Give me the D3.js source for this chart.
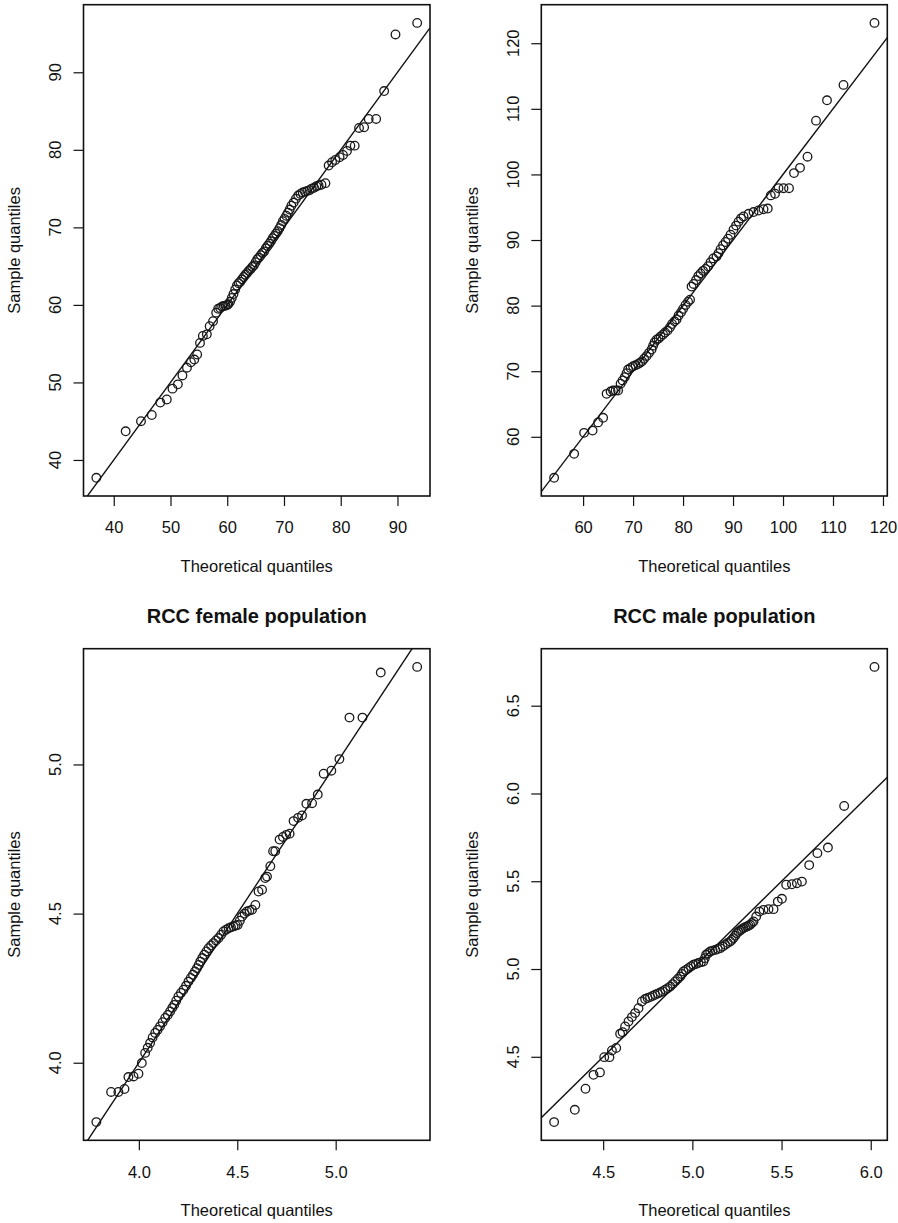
<!DOCTYPE html>
<html>
<head>
<meta charset="utf-8">
<script src="https://cdn.jsdelivr.net/npm/d3@7/dist/d3.min.js"></script>
<style>
  html, body { margin: 0; padding: 0; background: #fff; }
  svg { display: block; font-family: "Liberation Sans", Arial, Helvetica, sans-serif; }
</style>
</head>
<body>
<svg id="chart" width="898" height="1223"></svg>
<script>
// ---------- Normal Q-Q data (theoretical vs. sample quantiles) ----------

// upper-left panel
const tlTheoretical = [36.93, 42.1, 44.8, 46.7, 48.2, 49.35, 50.35, 51.3, 52.1, 52.9,
  53.6, 54.2, 54.7, 55.2, 55.7, 56.4, 56.9, 57.5, 58.05, 58.4,
  58.75, 59.1, 59.4, 59.7, 60.0, 60.2, 60.5, 60.8, 61.1, 61.4,
  61.7, 62.0, 62.3, 62.6, 62.9, 63.2, 63.5, 63.8, 64.1, 64.4,
  64.7, 65.0, 65.3, 65.6, 65.9, 66.2, 66.5, 66.8, 67.1, 67.4,
  67.7, 68.0, 68.3, 68.6, 68.9, 69.2, 69.5, 69.8, 70.1, 70.4,
  70.7, 71.0, 71.3, 71.7, 72.1, 72.5, 72.9, 73.3, 73.7, 74.1,
  74.5, 74.9, 75.3, 75.7, 76.1, 76.6, 77.3, 77.87, 78.47, 79.05,
  79.8, 80.4, 81.1, 81.7, 82.46, 83.23, 84.12, 84.93, 86.24, 87.65,
  89.65, 93.47];
const tlSample = [37.7, 43.7, 45.0, 45.8, 47.4, 47.8, 49.2, 49.75, 50.9, 51.9,
  52.6, 52.95, 53.6, 55.1, 56.0, 56.2, 57.25, 57.9, 59.0, 59.5,
  59.6, 59.8, 59.85, 59.9, 60.0, 60.1, 60.4, 60.9, 61.4, 62.0,
  62.5, 62.8, 63.0, 63.3, 63.6, 63.9, 64.1, 64.4, 64.6, 64.9,
  65.1, 65.5, 65.9, 66.1, 66.4, 66.7, 66.9, 67.3, 67.6, 67.9,
  68.2, 68.6, 68.9, 69.2, 69.5, 69.9, 70.3, 70.8, 71.1, 71.5,
  71.9, 72.3, 72.8, 73.2, 73.7, 74.1, 74.3, 74.5, 74.6, 74.7,
  74.8, 75.0, 75.1, 75.3, 75.4, 75.5, 75.7, 77.97, 78.4, 78.7,
  79.05, 79.34, 79.86, 80.54, 80.54, 82.82, 82.91, 83.98, 83.98, 87.58,
  94.88, 96.37];
const tlXTicks = [40, 50, 60, 70, 80, 90];
const tlXLabels = ["40", "50", "60", "70", "80", "90"];
const tlYTicks = [40, 50, 60, 70, 80, 90];
const tlYLabels = ["40", "50", "60", "70", "80", "90"];

// upper-right panel
const trTheoretical = [54.2, 58.2, 60.2, 61.9, 63.0, 64.0, 64.7, 65.5, 66.0, 66.5,
  67.0, 67.5, 67.9, 68.35, 68.7, 69.0, 69.5, 70.0, 70.5, 71.0,
  71.4, 71.8, 72.2, 72.7, 73.2, 73.7, 74.0, 74.3, 74.7, 75.1,
  75.5, 76.0, 76.4, 76.9, 77.4, 77.8, 78.3, 78.7, 79.1, 79.6,
  80.0, 80.5, 81.0, 81.4, 81.7, 82.1, 82.6, 83.05, 83.5, 84.0,
  84.5, 85.0, 85.5, 86.05, 86.7, 87.1, 87.5, 88.0, 88.5, 89.0,
  89.5, 90.1, 90.6, 91.1, 91.6, 92.1, 93.1, 94.1, 95.1, 96.1,
  96.95, 97.55, 98.4, 99.1, 100.1, 101.2, 102.2, 103.4, 104.9, 106.6,
  108.8, 112.1, 118.3];
const trSample = [53.75, 57.4, 60.6, 60.95, 62.2, 62.9, 66.55, 66.9, 67.05, 67.05,
  67.05, 68.1, 68.6, 69.1, 69.7, 70.25, 70.5, 70.75, 70.9, 71.1,
  71.3, 71.5, 71.9, 72.3, 72.8, 73.3, 73.9, 74.4, 74.8, 75.0,
  75.3, 75.6, 75.9, 76.2, 76.7, 77.2, 77.6, 77.9, 78.5, 79.0,
  79.5, 80.1, 80.6, 80.9, 82.9, 83.3, 83.9, 84.5, 84.9, 85.3,
  85.6, 86.0, 86.6, 87.2, 87.5, 88.0, 88.6, 89.2, 89.7, 90.2,
  90.8, 91.6, 92.2, 92.8, 93.3, 93.6, 94.0, 94.26, 94.5, 94.7,
  94.8, 96.8, 97.05, 97.9, 97.9, 97.9, 100.2, 101.0, 102.7, 108.2,
  111.3, 113.65, 123.1];
const trXTicks = [60, 70, 80, 90, 100, 110, 120];
const trXLabels = ["60", "70", "80", "90", "100", "110", "120"];
const trYTicks = [60, 70, 80, 90, 100, 110, 120];
const trYLabels = ["60", "70", "80", "90", "100", "110", "120"];

// RCC female population
const rccFemaleTheoretical = [3.784, 3.859, 3.896, 3.927, 3.947, 3.973, 3.998, 4.015, 4.032, 4.045,
  4.057, 4.070, 4.083, 4.095, 4.108, 4.121, 4.134, 4.147, 4.159, 4.170,
  4.180, 4.190, 4.201, 4.214, 4.227, 4.240, 4.252, 4.264, 4.275, 4.285,
  4.295, 4.304, 4.312, 4.322, 4.332, 4.343, 4.354, 4.367, 4.379, 4.392,
  4.405, 4.418, 4.430, 4.443, 4.456, 4.468, 4.481, 4.492, 4.502, 4.513,
  4.524, 4.537, 4.549, 4.562, 4.575, 4.592, 4.608, 4.626, 4.642, 4.651,
  4.668, 4.682, 4.693, 4.715, 4.732, 4.749, 4.766, 4.786, 4.809, 4.829,
  4.851, 4.880, 4.909, 4.939, 4.978, 5.019, 5.070, 5.136, 5.229, 5.414];
const rccFemaleSample = [3.801, 3.902, 3.902, 3.912, 3.952, 3.954, 3.963, 3.999, 4.033, 4.050,
  4.066, 4.085, 4.100, 4.110, 4.122, 4.136, 4.150, 4.160, 4.172, 4.184,
  4.194, 4.208, 4.222, 4.234, 4.245, 4.258, 4.272, 4.284, 4.295, 4.306,
  4.317, 4.328, 4.339, 4.351, 4.362, 4.373, 4.384, 4.393, 4.401, 4.410,
  4.418, 4.429, 4.440, 4.446, 4.451, 4.454, 4.457, 4.460, 4.462, 4.476,
  4.490, 4.500, 4.507, 4.510, 4.513, 4.529, 4.574, 4.580, 4.619, 4.624,
  4.659, 4.709, 4.709, 4.748, 4.757, 4.764, 4.768, 4.810, 4.821, 4.829,
  4.868, 4.870, 4.899, 4.969, 4.979, 5.018, 5.157, 5.157, 5.308, 5.327];
const rccFemaleXTicks = [4.0, 4.5, 5.0];
const rccFemaleXLabels = ["4.0", "4.5", "5.0"];
const rccFemaleYTicks = [4.0, 4.5, 5.0];
const rccFemaleYLabels = ["4.0", "4.5", "5.0"];

// RCC male population
const rccMaleTheoretical = [4.225, 4.341, 4.401, 4.446, 4.482, 4.506, 4.535, 4.549, 4.573, 4.595,
  4.609, 4.623, 4.642, 4.661, 4.679, 4.698, 4.717, 4.735, 4.749, 4.763,
  4.777, 4.791, 4.806, 4.820, 4.834, 4.848, 4.862, 4.876, 4.890, 4.904,
  4.918, 4.932, 4.941, 4.950, 4.964, 4.978, 4.992, 5.006, 5.020, 5.034,
  5.048, 5.062, 5.070, 5.077, 5.088, 5.100, 5.114, 5.128, 5.142, 5.156,
  5.170, 5.184, 5.198, 5.212, 5.221, 5.230, 5.240, 5.249, 5.258, 5.268,
  5.277, 5.286, 5.296, 5.306, 5.315, 5.324, 5.334, 5.343, 5.358, 5.376,
  5.399, 5.427, 5.455, 5.479, 5.502, 5.526, 5.558, 5.586, 5.614, 5.655,
  5.701, 5.760, 5.851, 6.021];
const rccMaleSample = [4.128, 4.198, 4.318, 4.397, 4.411, 4.498, 4.498, 4.536, 4.550, 4.631,
  4.640, 4.673, 4.701, 4.726, 4.749, 4.777, 4.815, 4.829, 4.835, 4.840,
  4.847, 4.853, 4.860, 4.866, 4.874, 4.882, 4.891, 4.900, 4.914, 4.929,
  4.943, 4.957, 4.972, 4.986, 4.995, 5.005, 5.015, 5.024, 5.029, 5.034,
  5.039, 5.043, 5.062, 5.081, 5.090, 5.100, 5.105, 5.109, 5.114, 5.119,
  5.128, 5.138, 5.148, 5.157, 5.166, 5.176, 5.190, 5.204, 5.212, 5.219,
  5.226, 5.233, 5.238, 5.242, 5.247, 5.252, 5.262, 5.271, 5.299, 5.327,
  5.337, 5.341, 5.341, 5.384, 5.400, 5.480, 5.483, 5.489, 5.498, 5.592,
  5.660, 5.692, 5.929, 6.721];
const rccMaleXTicks = [4.5, 5.0, 5.5, 6.0];
const rccMaleXLabels = ["4.5", "5.0", "5.5", "6.0"];
const rccMaleYTicks = [4.5, 5.0, 5.5, 6.0, 6.5];
const rccMaleYLabels = ["4.5", "5.0", "5.5", "6.0", "6.5"];

// reference line y = x
const refIntercept = 0;
const refSlope = 1;

const xTitle = "Theoretical quantiles";
const yTitle = "Sample quantiles";

// ---------- layout ----------
const panels = [
  { theo: tlTheoretical, sample: tlSample, xTicks: tlXTicks, xLabels: tlXLabels,
    yTicks: tlYTicks, yLabels: tlYLabels, title: null,
    box: { l: 83.5, r: 430, t: 4.7, b: 496 } },
  { theo: trTheoretical, sample: trSample, xTicks: trXTicks, xLabels: trXLabels,
    yTicks: trYTicks, yLabels: trYLabels, title: null,
    box: { l: 541.3, r: 887.3, t: 4.7, b: 496 } },
  { theo: rccFemaleTheoretical, sample: rccFemaleSample, xTicks: rccFemaleXTicks, xLabels: rccFemaleXLabels,
    yTicks: rccFemaleYTicks, yLabels: rccFemaleYLabels, title: "RCC female population",
    box: { l: 83.5, r: 430, t: 648.7, b: 1140.3 } },
  { theo: rccMaleTheoretical, sample: rccMaleSample, xTicks: rccMaleXTicks, xLabels: rccMaleXLabels,
    yTicks: rccMaleYTicks, yLabels: rccMaleYLabels, title: "RCC male population",
    box: { l: 541.3, r: 887.3, t: 648.7, b: 1140.3 } }
];

const ink = "#111";
const svg = d3.select("#chart");
svg.append("rect").attr("width", 898).attr("height", 1223).attr("fill", "#fff");

// axis limits extended by 4% of the data range on each side
function padded(values) {
  const [lo, hi] = d3.extent(values);
  const p = (hi - lo) * 0.04;
  return [lo - p, hi + p];
}

panels.forEach((p, k) => {
  const g = svg.append("g");
  const bx = p.box;
  const x = d3.scaleLinear().domain(padded(p.theo)).range([bx.l, bx.r]);
  const y = d3.scaleLinear().domain(padded(p.sample)).range([bx.b, bx.t]);

  const clipId = "plot-clip-" + k;
  g.append("clipPath").attr("id", clipId)
    .append("rect")
    .attr("x", bx.l).attr("y", bx.t)
    .attr("width", bx.r - bx.l).attr("height", bx.b - bx.t);

  // sample points
  g.append("g").selectAll("circle")
    .data(d3.zip(p.theo, p.sample))
    .join("circle")
    .attr("cx", d => x(d[0]))
    .attr("cy", d => y(d[1]))
    .attr("r", 4.3)
    .attr("fill", "none")
    .attr("stroke", "#1a1a1a")
    .attr("stroke-width", 1.3);

  // reference line
  const [x0, x1] = x.domain();
  g.append("line")
    .attr("clip-path", `url(#${clipId})`)
    .attr("x1", x(x0)).attr("y1", y(refIntercept + refSlope * x0))
    .attr("x2", x(x1)).attr("y2", y(refIntercept + refSlope * x1))
    .attr("stroke", ink).attr("stroke-width", 1.4);

  // frame
  g.append("rect")
    .attr("x", bx.l).attr("y", bx.t)
    .attr("width", bx.r - bx.l).attr("height", bx.b - bx.t)
    .attr("fill", "none").attr("stroke", ink).attr("stroke-width", 1.6);

  // x axis
  const xa = g.append("g")
    .attr("transform", `translate(0,${bx.b})`)
    .call(d3.axisBottom(x)
      .tickValues(p.xTicks)
      .tickFormat((d, i) => p.xLabels[i])
      .tickSize(10)
      .tickPadding(15.7));
  xa.select(".domain").remove();
  xa.attr("font-family", null).attr("font-size", 16.5).attr("color", ink);
  xa.selectAll("line").attr("stroke-width", 1.2);

  // y axis (labels set vertically)
  const ya = g.append("g")
    .attr("transform", `translate(${bx.l},0)`)
    .call(d3.axisLeft(y)
      .tickValues(p.yTicks)
      .tickFormat("")
      .tickSize(10));
  ya.select(".domain").remove();
  ya.attr("color", ink);
  ya.selectAll("line").attr("stroke-width", 1.2);

  g.append("g").selectAll("text")
    .data(p.yTicks)
    .join("text")
    .attr("transform", (d) => `translate(${bx.l - 22.3},${y(d)}) rotate(-90)`)
    .attr("text-anchor", "middle")
    .attr("font-size", 16.5)
    .attr("fill", ink)
    .text((d, i) => p.yLabels[i]);

  // axis titles
  const cx = (bx.l + bx.r) / 2;
  const cy = (bx.t + bx.b) / 2;
  g.append("text")
    .attr("x", cx).attr("y", bx.b + 76)
    .attr("text-anchor", "middle")
    .attr("font-size", 16.5)
    .attr("fill", ink)
    .text(xTitle);
  g.append("text")
    .attr("transform", `translate(${bx.l - 63.5},${cy}) rotate(-90)`)
    .attr("text-anchor", "middle")
    .attr("font-size", 16.5)
    .attr("fill", ink)
    .text(yTitle);

  if (p.title) {
    g.append("text")
      .attr("x", cx).attr("y", bx.t - 25.4)
      .attr("text-anchor", "middle")
      .attr("font-size", 20)
      .attr("font-weight", "bold")
      .attr("fill", ink)
      .text(p.title);
  }
});
</script>
</body>
</html>
